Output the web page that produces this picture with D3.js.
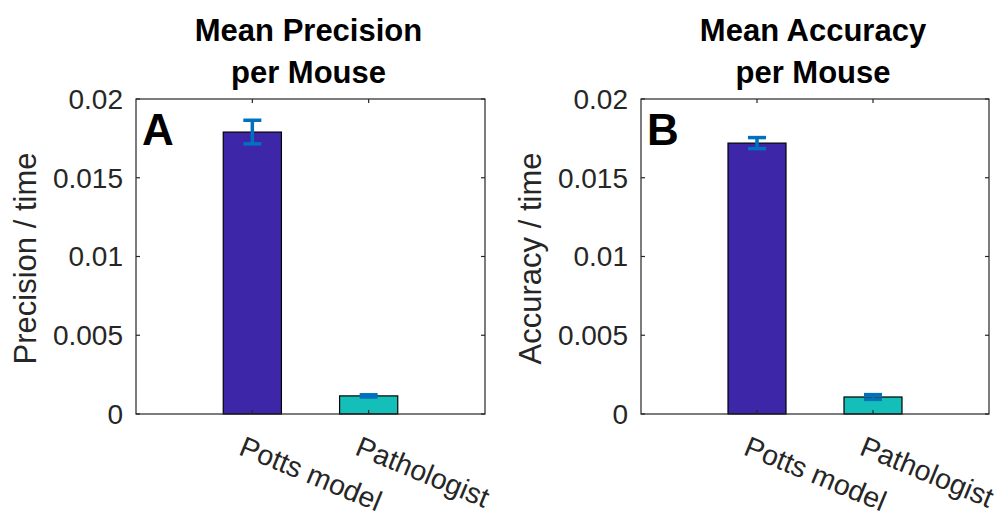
<!DOCTYPE html>
<html>
<head>
<meta charset="utf-8">
<script src="https://cdn.jsdelivr.net/npm/d3@7"></script>
<style>
  html, body { margin: 0; padding: 0; background: #fff; }
  svg { display: block; font-family: "Liberation Sans", Arial, Helvetica, sans-serif; }
</style>
</head>
<body>
<svg id="chart" width="1003" height="521"></svg>
<script>
// ---- data ----
const categories = ["Potts model", "Pathologist"];
const precisionMeans = [0.0179, 0.00115];
const precisionErr = [0.00075, 0.00007];
const accuracyMeans = [0.0172, 0.00108];
const accuracyErr = [0.00035, 0.00015];
const yTicks = [0, 0.005, 0.01, 0.015, 0.02];
const yTickLabels = ["0", "0.005", "0.01", "0.015", "0.02"];
const barColors = ["#3E26A8", "#14BEB9"];

const panels = [
  { letter: "A", title: ["Mean Precision", "per Mouse"], ylabel: "Precision / time",
    means: precisionMeans, errs: precisionErr, left: 136, right: 485 },
  { letter: "B", title: ["Mean Accuracy", "per Mouse"], ylabel: "Accuracy / time",
    means: accuracyMeans, errs: accuracyErr, left: 641, right: 989 }
];

const axTop = 99, axBottom = 414;
const axisColor = "#262626";
const svg = d3.select("#chart");

panels.forEach(p => {
  const x = d3.scaleLinear().domain([0, 3]).range([p.left, p.right]);
  const y = d3.scaleLinear().domain([0, 0.02]).range([axBottom, axTop]);
  const g = svg.append("g");
  const barW = x(0.5) - x(0);

  // bars
  g.selectAll("rect.bar").data(p.means).enter().append("rect")
    .attr("class", "bar")
    .attr("x", (d, i) => x(i + 1) - barW / 2)
    .attr("y", d => y(d))
    .attr("width", barW)
    .attr("height", d => y(0) - y(d))
    .attr("fill", (d, i) => barColors[i])
    .attr("stroke", "#000")
    .attr("stroke-width", 1.2);

  // ticks inward (left/right/top/bottom)
  const tickLen = 4;
  yTicks.forEach(t => {
    g.append("line").attr("x1", p.left).attr("x2", p.left + tickLen)
      .attr("y1", y(t)).attr("y2", y(t)).attr("stroke", axisColor).attr("stroke-width", 1.2);
    g.append("line").attr("x1", p.right).attr("x2", p.right - tickLen)
      .attr("y1", y(t)).attr("y2", y(t)).attr("stroke", axisColor).attr("stroke-width", 1.2);
  });
  categories.forEach((c, i) => {
    g.append("line").attr("x1", x(i + 1)).attr("x2", x(i + 1))
      .attr("y1", axBottom).attr("y2", axBottom - tickLen).attr("stroke", axisColor).attr("stroke-width", 1.2);
    g.append("line").attr("x1", x(i + 1)).attr("x2", x(i + 1))
      .attr("y1", axTop).attr("y2", axTop + tickLen).attr("stroke", axisColor).attr("stroke-width", 1.2);
  });

  // error bars
  const capW = 18;
  p.means.forEach((m, i) => {
    const cx = x(i + 1), e = p.errs[i];
    const eg = g.append("g").attr("stroke", "#0072BD").attr("stroke-width", 3.5);
    eg.append("line").attr("x1", cx).attr("x2", cx).attr("y1", y(m - e)).attr("y2", y(m + e));
    eg.append("line").attr("x1", cx - capW / 2).attr("x2", cx + capW / 2).attr("y1", y(m + e)).attr("y2", y(m + e));
    eg.append("line").attr("x1", cx - capW / 2).attr("x2", cx + capW / 2).attr("y1", y(m - e)).attr("y2", y(m - e));
  });

  // axis box
  g.append("rect").attr("x", p.left).attr("y", axTop)
    .attr("width", p.right - p.left).attr("height", axBottom - axTop)
    .attr("fill", "none").attr("stroke", axisColor).attr("stroke-width", 1.2);

  // y tick labels
  yTicks.forEach((t, i) => {
    g.append("text").attr("x", p.left - 13).attr("y", y(t))
      .attr("dy", "0.35em").attr("text-anchor", "end")
      .attr("font-size", 28).attr("fill", axisColor).text(yTickLabels[i]);
  });

  // x tick labels (rotated)
  categories.forEach((c, i) => {
    g.append("text")
      .attr("transform", `translate(${x(i + 1) - 7},${435}) rotate(22.5)`)
      .attr("dy", "0.72em").attr("text-anchor", "start")
      .attr("font-size", 28.5).attr("fill", axisColor).text(c);
  });

  // y label
  const cy = (axTop + axBottom) / 2;
  g.append("text")
    .attr("transform", `translate(${p.left - 111},${cy + 2}) rotate(-90)`)
    .attr("text-anchor", "middle").attr("dy", "0.35em")
    .attr("font-size", 31).attr("fill", axisColor).text(p.ylabel);

  // title
  const tx = (p.left + p.right) / 2 - 2;
  g.append("text").attr("x", tx).attr("y", 41).attr("text-anchor", "middle")
    .attr("font-size", 31).attr("font-weight", "bold").attr("fill", "#000").text(p.title[0]);
  g.append("text").attr("x", tx).attr("y", 83).attr("text-anchor", "middle")
    .attr("font-size", 31).attr("font-weight", "bold").attr("fill", "#000").text(p.title[1]);

  // panel letter
  g.append("text").attr("x", p.left + 6).attr("y", 145)
    .attr("font-size", 44).attr("font-weight", "bold").attr("fill", "#000").text(p.letter);
});
</script>
</body>
</html>
